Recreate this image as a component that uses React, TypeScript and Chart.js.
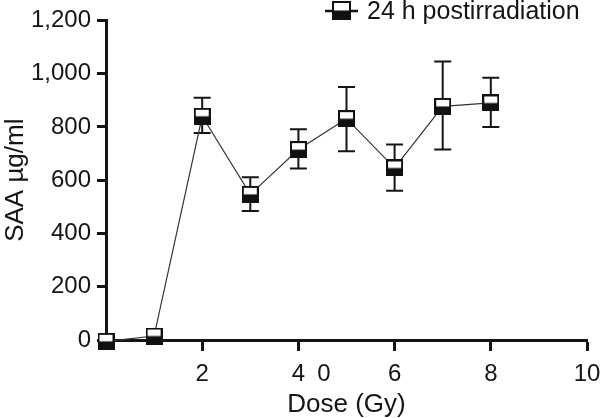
import React, { useEffect, useRef } from "react";
import { Chart, registerables } from "chart.js";

Chart.register(...registerables);

// Data
const doses = [0, 1, 2, 3, 4, 5, 6, 7, 8];
const saaMean = [-5, 15, 840, 547, 715, 831, 646, 877, 890];
const saaUpper = [-5, 15, 910, 611, 791, 950, 734, 1046, 985];
const saaLower = [-5, 15, 777, 484, 644, 709, 560, 715, 800];
const xTickValues = [2, 4, 6, 8, 10];
const yTickValues = [0, 200, 400, 600, 800, 1000, 1200];
const strayLabelValue = 4.53;
const strayLabelText = "0";
const seriesLabel = "24 h postirradiation";
const xTitle = "Dose (Gy)";
const yTitle = "SAA \u00b5g/ml";

const FONT = "'Liberation Sans', Arial, Helvetica, sans-serif";
const INK = "#151515";

function makeMarker(size: number): HTMLCanvasElement {
  const c = document.createElement("canvas");
  c.width = size;
  c.height = size;
  const g = c.getContext("2d")!;
  g.fillStyle = "#ffffff";
  g.fillRect(0, 0, size, size);
  g.fillStyle = "#111111";
  g.fillRect(0, size / 2, size, size / 2);
  g.strokeStyle = "#111111";
  g.lineWidth = 2;
  g.strokeRect(1, 1, size - 2, size - 2);
  return c;
}

export default function App() {
  const ref = useRef<HTMLCanvasElement | null>(null);

  useEffect(() => {
    if (!ref.current) return;
    const marker = makeMarker(17);
    const legendMarker = makeMarker(19);

    const errorBars = {
      id: "errorBars",
      beforeDatasetsDraw(chart: any) {
        const { ctx, scales } = chart;
        const x = scales.x;
        const y = scales.y;
        ctx.save();
        ctx.strokeStyle = INK;
        ctx.lineWidth = 2;
        doses.forEach((d, i) => {
          if (saaUpper[i] === saaLower[i]) return;
          const px = x.getPixelForValue(d);
          const t = y.getPixelForValue(saaUpper[i]);
          const b = y.getPixelForValue(saaLower[i]);
          ctx.beginPath();
          ctx.moveTo(px, t);
          ctx.lineTo(px, b);
          ctx.moveTo(px - 8.5, t);
          ctx.lineTo(px + 8.5, t);
          ctx.moveTo(px - 8.5, b);
          ctx.lineTo(px + 8.5, b);
          ctx.stroke();
        });
        ctx.restore();
      },
    };

    const extras = {
      id: "extras",
      afterDraw(chart: any) {
        const { ctx, scales } = chart;
        const x = scales.x;
        ctx.save();
        // stray label present in the reference tick row
        ctx.fillStyle = INK;
        ctx.font = `24px ${FONT}`;
        ctx.textAlign = "center";
        ctx.textBaseline = "alphabetic";
        ctx.fillText(strayLabelText, x.getPixelForValue(strayLabelValue), 381);
        // legend
        ctx.strokeStyle = INK;
        ctx.lineWidth = 2.5;
        ctx.beginPath();
        ctx.moveTo(325, 11);
        ctx.lineTo(358, 11);
        ctx.stroke();
        ctx.drawImage(legendMarker, 332, 1);
        ctx.font = `25px ${FONT}`;
        ctx.textAlign = "left";
        ctx.fillText(seriesLabel, 367, 19);
        ctx.restore();
      },
    };

    const chart = new Chart(ref.current, {
      type: "line",
      data: {
        datasets: [
          {
            label: seriesLabel,
            data: doses.map((d, i) => ({ x: d, y: saaMean[i] })),
            borderColor: "#333333",
            borderWidth: 1.2,
            pointStyle: marker as any,
            pointRadius: 8,
            clip: false as any,
            tension: 0,
          },
        ],
      },
      options: {
        animation: false,
        responsive: true,
        maintainAspectRatio: false,
        layout: { padding: { top: 20, right: 13, left: 0, bottom: 0 } },
        plugins: {
          legend: { display: false },
          tooltip: { enabled: false },
        },
        scales: {
          x: {
            type: "linear",
            min: 0,
            max: 10,
            afterBuildTicks: (s: any) => {
              s.ticks = xTickValues.map((v) => ({ value: v }));
            },
            afterFit: (s: any) => {
              s.height = 78;
              s.paddingRight = 0;
              s.paddingLeft = 0;
            },
            ticks: {
              font: { family: FONT, size: 24 },
              color: INK,
              padding: 9,
              maxRotation: 0,
              autoSkip: false,
            },
            grid: {
              display: true,
              drawOnChartArea: false,
              drawTicks: true,
              tickLength: 11,
              tickWidth: 3,
              tickColor: INK,
            },
            border: { display: true, width: 3, color: INK },
            title: {
              display: true,
              text: xTitle,
              font: { family: FONT, size: 26 },
              color: INK,
              padding: { top: 0, bottom: -2 },
            },
          },
          y: {
            type: "linear",
            min: 0,
            max: 1200,
            afterBuildTicks: (s: any) => {
              s.ticks = yTickValues.map((v) => ({ value: v }));
            },
            afterFit: (s: any) => {
              s.width = 106;
            },
            ticks: {
              font: { family: FONT, size: 24 },
              color: INK,
              padding: 6,
              callback: (v: any) => Number(v).toLocaleString("en-US"),
            },
            grid: {
              display: true,
              drawOnChartArea: false,
              drawTicks: true,
              tickLength: 9,
              tickWidth: 3,
              tickColor: INK,
            },
            border: { display: true, width: 3, color: INK },
            title: {
              display: true,
              text: yTitle,
              font: { family: FONT, size: 26 },
              color: INK,
              padding: { top: 0, bottom: 0 },
            },
          },
        },
      },
      plugins: [errorBars, extras],
    });
    return () => chart.destroy();
  }, []);

  return (
    <div
      style={{
        position: "fixed",
        left: 0,
        top: 0,
        width: 600,
        height: 418,
        background: "#ffffff",
      }}
    >
      <canvas ref={ref} />
    </div>
  );
}
